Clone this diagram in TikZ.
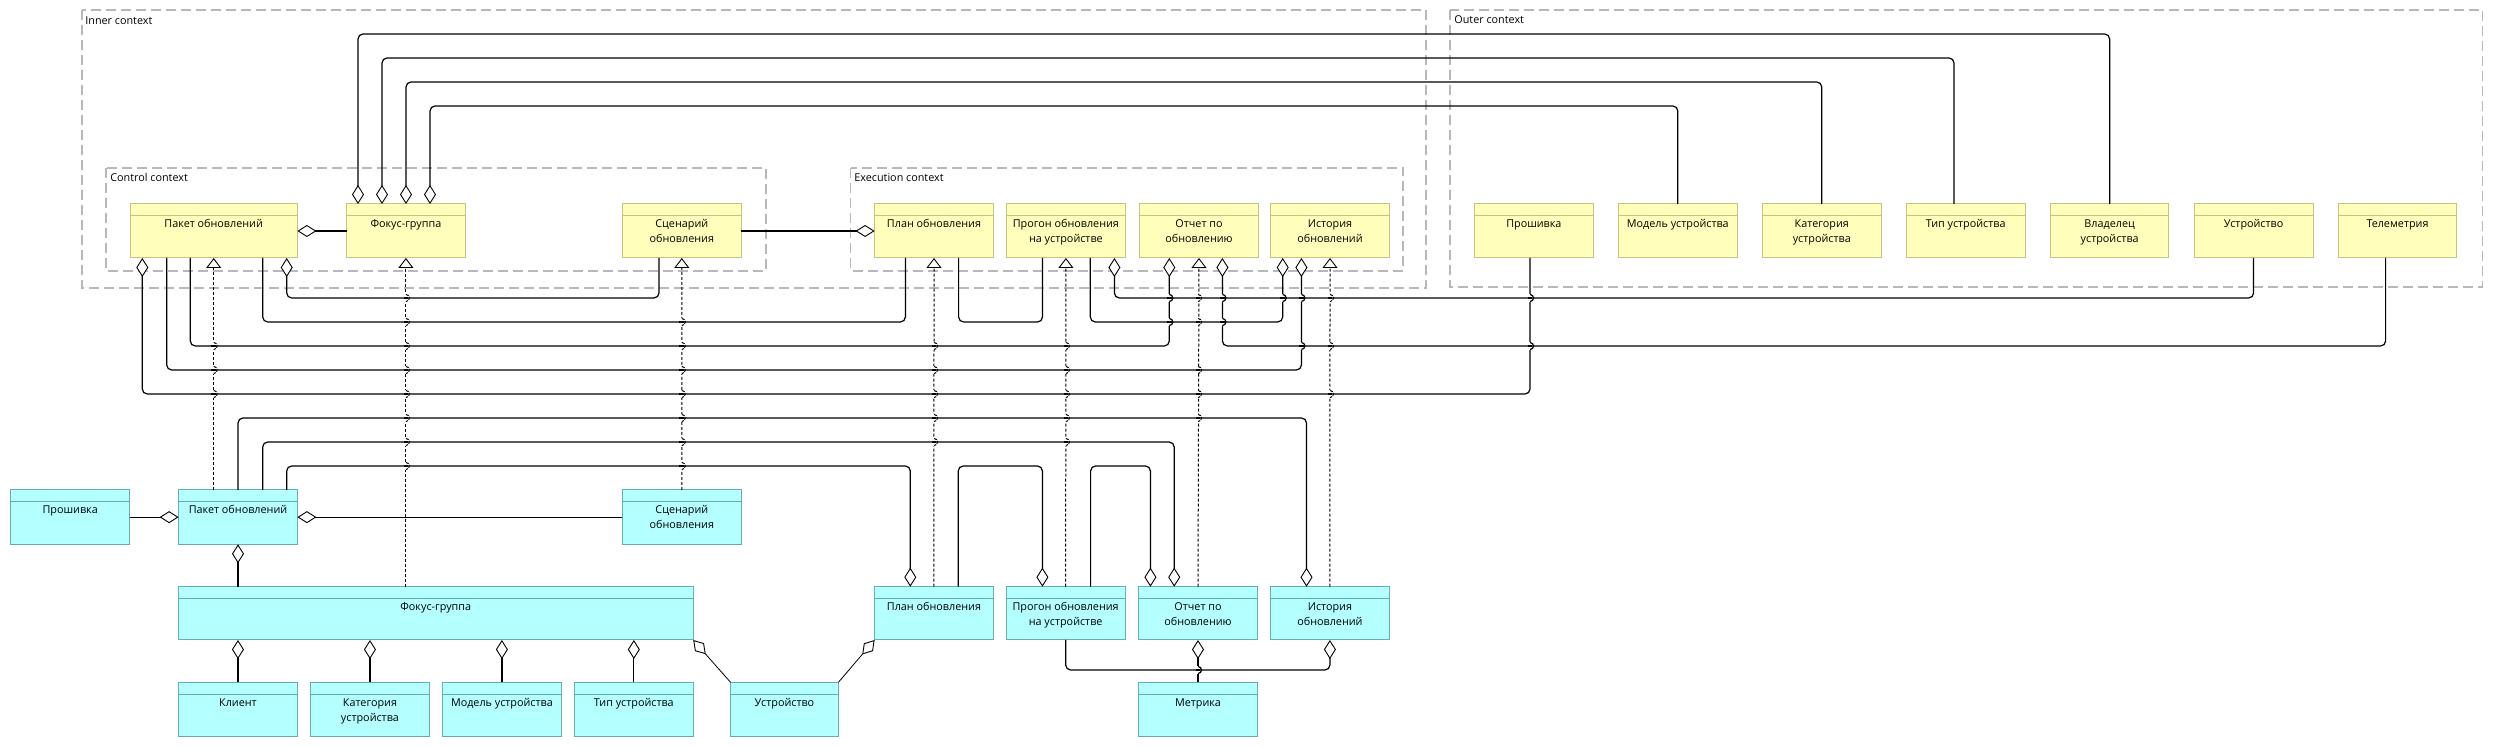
\documentclass[tikz,border=0pt]{standalone}
\usepackage{fontspec}
\setmainfont{Open Sans}
\usetikzlibrary{arrows.meta,calc}
\definecolor{yfill}{RGB}{255,255,187}
\definecolor{yborder}{RGB}{196,196,128}
\definecolor{cfill}{RGB}{180,255,255}
\definecolor{cborder}{RGB}{104,172,172}
\definecolor{framegray}{RGB}{184,184,184}
\newcommand\umlbox[7]{%
  \node[#2, minimum width={(#5-#3)*0.5pt}, minimum height={(#6-#4)*0.5pt}] (#1) at ({(#3+#5)/2},{(#4+#6)/2}) {};
  \draw[#2 line] ($(#1.north west)+(0,12)$) -- ($(#1.north east)+(0,12)$);
  \node[lbl, anchor=base] at ($(#1.north)+(0,24)$) {\begin{tabular}[t]{@{}c@{}}#7\end{tabular}};
}
\newcommand\hop[3][hopsolid]{%
  \fill[white] ({#2-1.6},{#3-3.8}) rectangle ({#2+1.6},{#3+3.8});
  \draw[line width=0.6pt] ({#2-2.4},#3) -- ({#2+2.4},#3);
  \draw[#1] (#2,{#3-3.5}) arc[start angle=-90,end angle=90,radius=3.5];
}
\begin{document}
\begin{tikzpicture}[x=0.5pt,y=-0.5pt,
  lbl/.style={font=\fontsize{5.4}{7.5}\selectfont, inner sep=0pt, text=black},
  ybox/.style={draw=yborder, fill=yfill, line width=0.5pt, inner sep=0pt, outer sep=0pt},
  ybox line/.style={draw=yborder, line width=0.5pt},
  cbox/.style={draw=cborder, fill=cfill, line width=0.5pt, inner sep=0pt, outer sep=0pt},
  cbox line/.style={draw=cborder, line width=0.5pt},
  frame/.style={draw=framegray, line width=0.6pt, dash pattern=on 5pt off 2.5pt},
  conn/.style={line width=0.6pt, rounded corners=2.5pt},
  agg/.style={conn, -{Diamond[fill=white, length=9.5pt, width=6pt, line width=0.45pt]}},
  aggthin/.style={line width=0.4pt, -{Diamond[fill=white, length=9.5pt, width=6pt, line width=0.45pt]}},
  gen/.style={line width=0.5pt, dash pattern=on 1.5pt off 1pt, -{Triangle[fill=white, length=5pt, width=7.5pt, line width=0.45pt]}},
  hopsolid/.style={line width=0.6pt},
  hopdash/.style={line width=0.5pt, dash pattern=on 1.5pt off 0.6pt}
]
\useasboundingbox (0,0) rectangle (2493,747);

% context frames
\draw[frame] (82,10) rectangle (1426,288);
\draw[frame] (106,168) rectangle (766,271);
\draw[frame] (850.5,168) rectangle (1403,271);
\draw[frame] (1450,10) rectangle (2482.5,287);
\node[lbl, anchor=base west] at (85,25) {Inner context};
\node[lbl, anchor=base west] at (110,181.5) {Control context};
\node[lbl, anchor=base west] at (854,181.5) {Execution context};
\node[lbl, anchor=base west] at (1454,24) {Outer context};

% yellow boxes
\umlbox{yPak}{ybox}{130}{204}{297.4}{258}{Пакет обновлений}
\umlbox{yFok}{ybox}{346.5}{204}{465.3}{258}{Фокус-группа}
\umlbox{yScen}{ybox}{622.4}{204}{741.2}{258}{Сценарий\\обновления}
\umlbox{yPlan}{ybox}{874.6}{204}{993.4}{258}{План обновления}
\umlbox{yProg}{ybox}{1006.3}{204}{1125.5}{258}{Прогон обновления\\на устройстве}
\umlbox{yOtch}{ybox}{1139.4}{204}{1258.6}{258}{Отчет по\\обновлению}
\umlbox{yIst}{ybox}{1270.6}{204}{1389.4}{258}{История\\обновлений}
\umlbox{oFw}{ybox}{1474.6}{204}{1593.1}{258}{Прошивка}
\umlbox{oMod}{ybox}{1618.2}{204}{1737.4}{258}{Модель устройства}
\umlbox{oCat}{ybox}{1762.5}{204}{1881}{258}{Категория\\устройства}
\umlbox{oTyp}{ybox}{1906}{204}{2025.3}{258}{Тип устройства}
\umlbox{oOwn}{ybox}{2050.4}{204}{2168.9}{258}{Владелец\\устройства}
\umlbox{oDev}{ybox}{2194}{204}{2313.1}{258}{Устройство}
\umlbox{oTel}{ybox}{2338.3}{204}{2456.7}{258}{Телеметрия}

% cyan boxes
\umlbox{cFw}{cbox}{10.7}{490}{129.6}{544.3}{Прошивка}
\umlbox{cPak}{cbox}{178.6}{490}{297.4}{544.3}{Пакет обновлений}
\umlbox{cScen}{cbox}{622.4}{490}{741.3}{544.3}{Сценарий\\обновления}
\umlbox{cFok}{cbox}{178.3}{586.7}{693.2}{640}{Фокус-группа}
\umlbox{cPlan}{cbox}{874.6}{586.7}{993.3}{640}{План обновления}
\umlbox{cProg}{cbox}{1006.3}{586.7}{1125}{640}{Прогон обновления\\на устройстве}
\umlbox{cOtch}{cbox}{1138.4}{586.7}{1257.6}{640}{Отчет по\\обновлению}
\umlbox{cIst}{cbox}{1270.5}{586.7}{1389.3}{640}{История\\обновлений}
\umlbox{cCli}{cbox}{178.3}{682.3}{297.6}{736.3}{Клиент}
\umlbox{cCat}{cbox}{310.6}{682.3}{429.3}{736.3}{Категория\\устройства}
\umlbox{cMod}{cbox}{442.3}{682.3}{561.5}{736.3}{Модель устройства}
\umlbox{cTyp}{cbox}{574.5}{682.3}{693.2}{736.3}{Тип устройства}
\umlbox{cDev}{cbox}{730.5}{682.3}{838.4}{736.3}{Устройство}
\umlbox{cMet}{cbox}{1138.4}{682.3}{1257.6}{736.3}{Метрика}

% --- yellow connectors
\draw[agg] (yFok.west) -- (yPak.east);
\draw[agg] (oOwn.north) |- (358,34) -- ($(yFok.north west)+(11.5,0)$);
\draw[agg] ($(oTyp.north west)+(48,0)$) |- (382,58) -- ($(yFok.north west)+(35.5,0)$);
\draw[agg] (oCat.north) |- (406,82) -- ($(yFok.north west)+(59.5,0)$);
\draw[agg] (oMod.north) |- (430,106) -- ($(yFok.north west)+(83.5,0)$);
\draw[agg] (yScen.east) -- (yPlan.west);
\draw[agg] ($(yScen.south west)+(36.6,0)$) |- (286.7,298) -- ($(yPak.south west)+(156.7,0)$);
\draw[conn] ($(yPak.south west)+(132.7,0)$) |- (905.4,322) -- ($(yPlan.south west)+(30.8,0)$);
\draw[conn] ($(yPlan.south west)+(84,0)$) |- (1042.5,322) -- ($(yProg.south west)+(36.2,0)$);
\draw[agg] ($(yProg.south west)+(84,0)$) |- (1282.7,322) -- ($(yIst.south west)+(12.1,0)$);
\draw[agg] (oDev.south) |- (1114.4,298) -- ($(yProg.south west)+(108.1,0)$);
\draw[agg] ($(yPak.south west)+(60.3,0)$) |- (1169.3,346) -- ($(yOtch.south west)+(29.9,0)$);
\draw[agg] ($(oTel.south west)+(47.3,0)$) |- (1222.4,346) -- ($(yOtch.south west)+(83,0)$);
\draw[agg] ($(yPak.south west)+(36.7,0)$) |- (1301.4,370) -- ($(yIst.south west)+(30.8,0)$);
\draw[agg] ($(oFw.south west)+(55.4,0)$) |- (142.3,394) -- ($(yPak.south west)+(12.3,0)$);

% --- realizations
\draw[gen] (cPak.north -| yPak.south) -- (yPak.south);
\draw[gen] (cFok.north -| yFok.south) -- (yFok.south);
\draw[gen] (cScen.north) -- (yScen.south);
\draw[gen] (cPlan.north) -- (yPlan.south);
\draw[gen] (cProg.north) -- (yProg.south);
\draw[gen] (cOtch.north) -- (yOtch.south);
\draw[gen] (cIst.north) -- (yIst.south);

% --- cyan connectors
\draw[agg] (cFw.east) -- (cPak.west);
\draw[agg] (cScen.west) -- (cPak.east);
\draw[agg] (cFok.north -| cPak.south) -- (cPak.south);
\draw[agg] (cPak.north) |- (1306.5,418) -- ($(cIst.north west)+(36,0)$);
\draw[agg] ($(cPak.north west)+(84.1,0)$) |- (1174.2,442) -- ($(cOtch.north west)+(35.8,0)$);
\draw[agg] ($(cPak.north west)+(108.1,0)$) |- (910.3,466) -- ($(cPlan.north west)+(35.7,0)$);
\draw[agg] ($(cPlan.north west)+(83.6,0)$) |- (1042.4,466) -- ($(cProg.north west)+(36.1,0)$);
\draw[agg] ($(cProg.north west)+(84.3,0)$) |- (1150.4,466) -- ($(cOtch.north west)+(12,0)$);
\draw[agg] (cCli.north) -- (cCli.north |- cFok.south);
\draw[agg] (cCat.north) -- (cCat.north |- cFok.south);
\draw[agg] (cMod.north) -- (cMod.north |- cFok.south);
\draw[agg] (cTyp.north) -- (cTyp.north |- cFok.south);
\draw[aggthin] (cDev.north west) -- (cFok.south east);
\draw[aggthin] (cDev.north east) -- (cPlan.south west);
\draw[agg] (cMet.north) -- (cOtch.south);
\draw[agg] (cProg.south) |- (1329.9,670) -- (cIst.south);

% --- line hops (solid verticals)
\foreach \yy in {298,322} {\hop{1169.3}{\yy}\hop{1222.4}{\yy}}
\hop{1282.7}{298}
\foreach \yy in {298,346} {\hop{1301.4}{\yy}\hop{1530}{\yy}}
\hop{1198}{670}
% --- line hops (dashed verticals)
\foreach \yy in {298,322,346,370,394,418,442,466} {\hop[hopdash]{405.9}{\yy}}
\foreach \yy in {322,346,370,394,418,442,466} {\hop[hopdash]{681.8}{\yy}}
\foreach \yy in {346,370,394} {\hop[hopdash]{213.7}{\yy}}
\foreach \yy in {346,370,394,418,442} {\hop[hopdash]{934}{\yy}\hop[hopdash]{1065.9}{\yy}}
\foreach \yy in {298,322,370,394,418} {\hop[hopdash]{1198}{\yy}}
\foreach \yy in {298,346,394} {\hop[hopdash]{1330}{\yy}}
\end{tikzpicture}
\end{document}
